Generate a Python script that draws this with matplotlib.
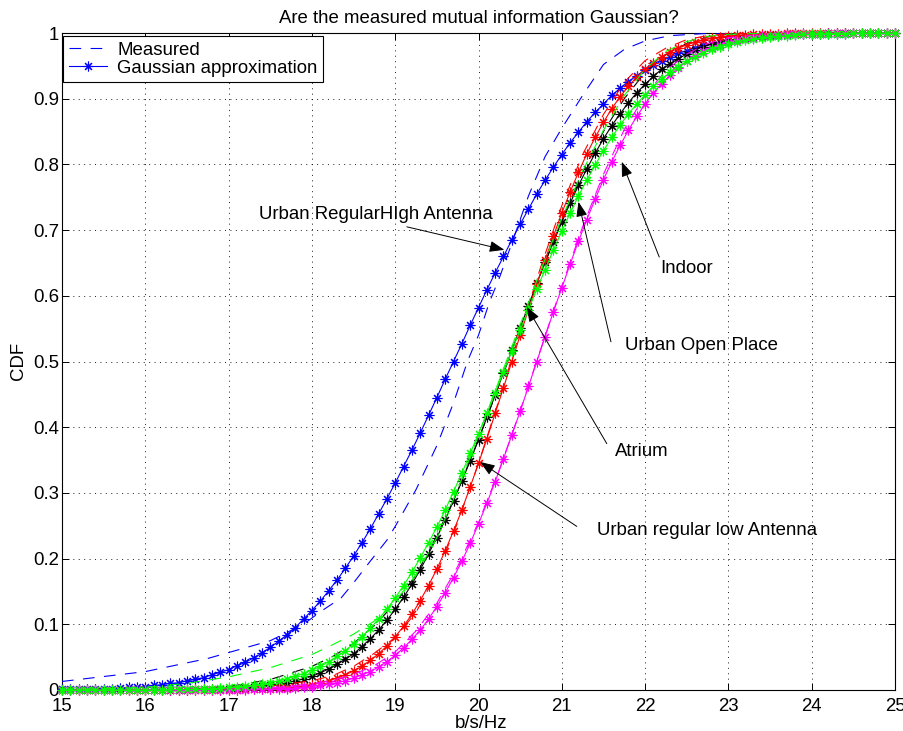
import numpy as np
import matplotlib
matplotlib.use("Agg")
import matplotlib.pyplot as plt

plt.rcParams['font.family'] = ['Liberation Sans', 'DejaVu Sans']

# ---------------------------------------------------------------------------
# Data
# ---------------------------------------------------------------------------
# spectral efficiency grid (b/s/Hz) of the Gaussian-approximation markers
rate = np.linspace(15.0, 25.0, 101)

blue_gauss = [
    0.001, 0.001, 0.001, 0.001, 0.002, 0.002, 0.002, 0.003, 0.004, 0.004,
    0.005, 0.007, 0.008, 0.010, 0.011, 0.014, 0.016, 0.019, 0.023, 0.027,
    0.031, 0.037, 0.042, 0.049, 0.056, 0.065, 0.074, 0.084, 0.095, 0.108,
    0.121, 0.135, 0.151, 0.167, 0.185, 0.204, 0.224, 0.245, 0.268, 0.291,
    0.315, 0.340, 0.365, 0.391, 0.418, 0.445, 0.473, 0.500, 0.527, 0.555,
    0.582, 0.609, 0.635, 0.660, 0.685, 0.709, 0.732, 0.755, 0.776, 0.796,
    0.815, 0.833, 0.849, 0.865, 0.879, 0.892, 0.905, 0.916, 0.926, 0.935,
    0.944, 0.951, 0.958, 0.963, 0.969, 0.973, 0.977, 0.981, 0.984, 0.986,
    0.989, 0.990, 0.992, 0.993, 0.995, 0.996, 0.996, 0.997, 0.998, 0.998,
    0.998, 0.999, 0.999, 0.999, 0.999, 1.000, 1.000, 1.000, 1.000, 1.000,
    1.000]

red_gauss = [
    0.000, 0.000, 0.000, 0.000, 0.000, 0.000, 0.000, 0.000, 0.000, 0.000,
    0.000, 0.000, 0.000, 0.000, 0.000, 0.000, 0.000, 0.000, 0.000, 0.000,
    0.000, 0.000, 0.001, 0.001, 0.001, 0.002, 0.003, 0.003, 0.005, 0.006,
    0.008, 0.011, 0.014, 0.018, 0.023, 0.029, 0.036, 0.045, 0.055, 0.067,
    0.081, 0.097, 0.115, 0.136, 0.159, 0.184, 0.212, 0.242, 0.274, 0.309,
    0.345, 0.382, 0.421, 0.460, 0.500, 0.540, 0.579, 0.618, 0.655, 0.691,
    0.726, 0.758, 0.788, 0.816, 0.841, 0.864, 0.885, 0.903, 0.919, 0.933,
    0.945, 0.955, 0.964, 0.971, 0.977, 0.982, 0.986, 0.989, 0.992, 0.994,
    0.995, 0.997, 0.997, 0.998, 0.999, 0.999, 0.999, 1.000, 1.000, 1.000,
    1.000, 1.000, 1.000, 1.000, 1.000, 1.000, 1.000, 1.000, 1.000, 1.000,
    1.000]

black_gauss = [
    0.000, 0.000, 0.000, 0.000, 0.000, 0.000, 0.000, 0.000, 0.000, 0.000,
    0.000, 0.000, 0.000, 0.000, 0.000, 0.000, 0.001, 0.001, 0.001, 0.001,
    0.002, 0.003, 0.003, 0.004, 0.006, 0.007, 0.009, 0.011, 0.014, 0.017,
    0.021, 0.026, 0.032, 0.039, 0.047, 0.055, 0.066, 0.078, 0.091, 0.106,
    0.123, 0.141, 0.161, 0.183, 0.207, 0.232, 0.259, 0.288, 0.318, 0.349,
    0.381, 0.415, 0.449, 0.483, 0.517, 0.551, 0.585, 0.619, 0.651, 0.682,
    0.712, 0.741, 0.768, 0.793, 0.817, 0.839, 0.859, 0.877, 0.894, 0.909,
    0.922, 0.934, 0.945, 0.953, 0.961, 0.968, 0.974, 0.979, 0.983, 0.986,
    0.989, 0.991, 0.993, 0.994, 0.996, 0.997, 0.997, 0.998, 0.999, 0.999,
    0.999, 0.999, 1.000, 1.000, 1.000, 1.000, 1.000, 1.000, 1.000, 1.000,
    1.000]

green_gauss = [
    0.000, 0.000, 0.000, 0.000, 0.000, 0.000, 0.000, 0.000, 0.000, 0.000,
    0.000, 0.000, 0.000, 0.001, 0.001, 0.001, 0.001, 0.002, 0.002, 0.003,
    0.004, 0.005, 0.006, 0.007, 0.009, 0.011, 0.014, 0.017, 0.021, 0.025,
    0.030, 0.036, 0.043, 0.051, 0.060, 0.070, 0.081, 0.094, 0.108, 0.123,
    0.140, 0.159, 0.179, 0.201, 0.224, 0.248, 0.274, 0.302, 0.330, 0.360,
    0.390, 0.421, 0.452, 0.484, 0.516, 0.548, 0.579, 0.610, 0.640, 0.670,
    0.698, 0.726, 0.752, 0.776, 0.799, 0.821, 0.841, 0.860, 0.877, 0.892,
    0.906, 0.919, 0.930, 0.940, 0.949, 0.957, 0.964, 0.970, 0.975, 0.979,
    0.983, 0.986, 0.989, 0.991, 0.993, 0.994, 0.995, 0.996, 0.997, 0.998,
    0.998, 0.999, 0.999, 0.999, 0.999, 1.000, 1.000, 1.000, 1.000, 1.000,
    1.000]

magenta_gauss = [
    0.000, 0.000, 0.000, 0.000, 0.000, 0.000, 0.000, 0.000, 0.000, 0.000,
    0.000, 0.000, 0.000, 0.000, 0.000, 0.000, 0.000, 0.000, 0.000, 0.000,
    0.000, 0.000, 0.000, 0.001, 0.001, 0.001, 0.002, 0.002, 0.003, 0.004,
    0.005, 0.007, 0.009, 0.011, 0.014, 0.018, 0.023, 0.028, 0.035, 0.043,
    0.053, 0.064, 0.077, 0.091, 0.108, 0.127, 0.148, 0.171, 0.196, 0.223,
    0.253, 0.284, 0.317, 0.352, 0.388, 0.424, 0.462, 0.500, 0.538, 0.576,
    0.612, 0.648, 0.683, 0.716, 0.747, 0.777, 0.804, 0.829, 0.852, 0.873,
    0.892, 0.909, 0.923, 0.936, 0.947, 0.957, 0.965, 0.972, 0.977, 0.982,
    0.986, 0.989, 0.991, 0.993, 0.995, 0.996, 0.997, 0.998, 0.998, 0.999,
    0.999, 0.999, 1.000, 1.000, 1.000, 1.000, 1.000, 1.000, 1.000, 1.000,
    1.000]

# measured empirical CDFs
blue_meas_x = [15.0, 16.0, 16.75, 17.5, 17.9, 18.1, 18.35, 18.5, 18.7, 18.9,
               19.0, 19.25, 19.5, 19.7, 19.87, 20.0, 20.13, 20.25, 20.4, 20.6,
               20.8, 21.0, 21.25, 21.5, 21.75, 22.0, 22.3, 22.7, 23.0, 25.0]
blue_meas = [0.013, 0.028, 0.048, 0.075, 0.100, 0.119, 0.140, 0.163, 0.196, 0.228,
             0.249, 0.305, 0.372, 0.437, 0.501, 0.540, 0.590, 0.627, 0.680, 0.752,
             0.812, 0.855, 0.905, 0.952, 0.975, 0.988, 0.996, 0.999, 1.000, 1.000]

meas_x = [15.0, 16.0, 16.5, 17.0, 17.5, 18.0, 18.25, 18.5, 18.75, 19.0,
          19.25, 19.5, 19.75, 20.0, 20.25, 20.5, 20.75, 21.0, 21.25, 21.5,
          21.75, 22.0, 22.25, 22.5, 22.75, 23.0, 23.5, 24.0, 25.0]
red_meas = [0.000, 0.000, 0.001, 0.002, 0.006, 0.014, 0.022, 0.036, 0.056, 0.080,
            0.118, 0.178, 0.255, 0.345, 0.443, 0.546, 0.645, 0.737, 0.815, 0.876,
            0.925, 0.958, 0.977, 0.990, 0.996, 0.999, 1.000, 1.000, 1.000]
green_meas = [0.000, 0.004, 0.010, 0.020, 0.034, 0.054, 0.069, 0.085, 0.105, 0.135,
              0.175, 0.232, 0.305, 0.388, 0.472, 0.556, 0.640, 0.718, 0.790, 0.852,
              0.905, 0.945, 0.972, 0.987, 0.995, 0.998, 1.000, 1.000, 1.000]
black_meas = [0.000, 0.000, 0.001, 0.005, 0.016, 0.036, 0.051, 0.071, 0.098, 0.132,
              0.175, 0.235, 0.303, 0.381, 0.465, 0.550, 0.635, 0.715, 0.788, 0.850,
              0.900, 0.940, 0.967, 0.984, 0.994, 0.998, 1.000, 1.000, 1.000]
magenta_meas = [0.000, 0.000, 0.000, 0.001, 0.003, 0.009, 0.015, 0.024, 0.037, 0.058,
                0.090, 0.132, 0.188, 0.255, 0.335, 0.425, 0.520, 0.615, 0.705, 0.785,
                0.853, 0.905, 0.943, 0.968, 0.984, 0.993, 0.999, 1.000, 1.000]

x_ticks = [15, 16, 17, 18, 19, 20, 21, 22, 23, 24, 25]
y_ticks = [0.0, 0.1, 0.2, 0.3, 0.4, 0.5, 0.6, 0.7, 0.8, 0.9, 1.0]
y_tick_labels = ['0', '0.1', '0.2', '0.3', '0.4', '0.5', '0.6', '0.7', '0.8', '0.9', '1']

# annotation label, text anchor (x, baseline y), arrow tail, arrow tip
annotations = [
    ("Urban RegularHIgh Antenna", (17.36, 0.717), (19.14, 0.705), (20.31, 0.670)),
    ("Indoor", (22.18, 0.635), (22.17, 0.659), (21.72, 0.804)),
    ("Urban Open Place", (21.76, 0.518), (21.59, 0.530), (21.20, 0.743)),
    ("Atrium", (21.64, 0.356), (21.54, 0.375), (20.58, 0.583)),
    ("Urban regular low Antenna", (21.42, 0.236), (21.18, 0.249), (20.02, 0.347)),
]

# ---------------------------------------------------------------------------
# Figure
# ---------------------------------------------------------------------------
FS = 13.4
fig = plt.figure(figsize=(9.04, 7.31), dpi=100)
ax = fig.add_axes([62 / 904, 41 / 731, 833 / 904, 657 / 731])

asterisk = (8, 2, 0)
dash = (0, (10.5, 8.5))
series = [
    ('blue', blue_meas_x, blue_meas, blue_gauss),
    ('black', meas_x, black_meas, black_gauss),
    ('red', meas_x, red_meas, red_gauss),
    ('magenta', meas_x, magenta_meas, magenta_gauss),
    ('lime', meas_x, green_meas, green_gauss),
]
col_map = {'blue': '#0000ff', 'black': '#000000', 'red': '#ff0000',
           'magenta': '#ff00ff', 'lime': '#00ff00'}

handles = []
for name, mx, my, gy in series:
    c = col_map[name]
    h1, = ax.plot(mx, my, color=c, lw=0.8, linestyle=dash, zorder=3)
    h2, = ax.plot(rate, gy, color=c, lw=0.8, marker=asterisk, markersize=7,
                  markeredgewidth=0.8, zorder=3, clip_on=False)
    if name == 'blue':
        handles = [h1, h2]

ax.set_xlim(15, 25)
ax.set_ylim(0, 1)
ax.set_xticks(x_ticks)
ax.set_xticklabels([str(t) for t in x_ticks])
ax.set_yticks(y_ticks)
ax.set_yticklabels(y_tick_labels)
ax.tick_params(direction='in', length=5, width=0.7, top=True, right=True,
               labelsize=FS, colors='black')
ax.tick_params(axis='x', pad=6)
ax.tick_params(axis='y', pad=2)
for s in ax.spines.values():
    s.set_linewidth(0.8)

ax.set_axisbelow(True)
ax.grid(True, color='black', linewidth=0.6, linestyle=(0, (1.2, 5.3)))

# annotations
for label, (tx, ty), tail, tip in annotations:
    ax.text(tx, ty, label, fontsize=FS, ha='left', va='baseline', zorder=5)
    ax.annotate('', xy=tip, xytext=tail,
                arrowprops=dict(arrowstyle='-|>,head_length=0.45,head_width=0.17',
                                color='black', lw=0.7, shrinkA=0, shrinkB=0,
                                mutation_scale=20),
                zorder=5)

leg = ax.legend(handles, ['Measured', 'Gaussian approximation'],
                loc='upper left', bbox_to_anchor=(0.0015, 0.995),
                borderaxespad=0.0, fontsize=FS, frameon=True, fancybox=False,
                framealpha=1.0, edgecolor='black', handlelength=2.05,
                handletextpad=0.55, borderpad=0.3, labelspacing=0.05,
                numpoints=1)
leg.get_frame().set_linewidth(0.8)

fig.text(478.5 / 904, 1 - 22.7 / 731, 'Are the measured mutual information Gaussian?',
         ha='center', va='baseline', fontsize=FS)
fig.text(481 / 904, 3 / 731, 'b/s/Hz', ha='center', va='baseline', fontsize=FS)
fig.text(19 / 904, 1 - 361 / 731, 'CDF', ha='center', va='center',
         rotation=90, fontsize=FS)

fig.savefig('out.png', dpi=100)
